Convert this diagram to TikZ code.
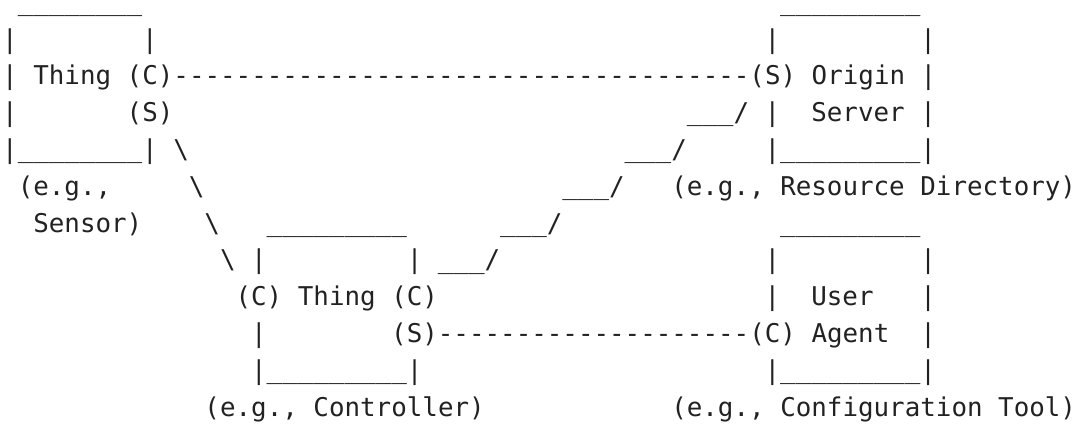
\documentclass[tikz,border=0pt]{standalone}
\usepackage{fontspec}
\setmonofont{DejaVu Sans Mono}
\definecolor{ink}{HTML}{222222}
\newcommand\asc[4]{\node[txt] (#1) at ({2.2+15.56*(#2)},{11.2+36.8*(#3)}) {#4};}
\newcommand\ascu[4]{\node[txt,yshift=0.4pt] (#1) at ({2.2+15.56*(#2)},{11.2+36.8*(#3)}) {#4};}
\newcommand\bs{\textbackslash}
\begin{document}
\begin{tikzpicture}[x=0.5pt,y=-0.5pt,
  txt/.style={inner sep=0pt,outer sep=0pt,anchor=base west,text=ink,
    font=\fontsize{12.93pt}{18pt}\selectfont\ttfamily\frenchspacing}]
\useasboundingbox (0,0) rectangle (1079,423);
% row 0
\ascu{a0}{1}{0}{\_\_\_\_\_\_\_\_}
\ascu{b0}{50}{0}{\_\_\_\_\_\_\_\_\_}
% row 1
\asc{a1}{0}{1}{|}
\asc{b1}{9}{1}{|}
\asc{c1}{49}{1}{|}
\asc{d1}{59}{1}{|}
% row 2
\asc{a2}{0}{2}{| Thing (C)-------------------------------------(S) Origin |}
% row 3
\asc{a3}{0}{3}{|}
\asc{b3}{8}{3}{(S)}
\ascu{c3}{44}{3}{\_\_\_}
\asc{d3}{47}{3}{/}
\asc{e3}{49}{3}{|}
\asc{f3}{52}{3}{Server}
\asc{g3}{59}{3}{|}
% row 4
\asc{a4}{0}{4}{|}
\ascu{b4}{1}{4}{\_\_\_\_\_\_\_\_}
\asc{c4}{9}{4}{|}
\asc{d4}{11}{4}{\bs}
\ascu{e4}{40}{4}{\_\_\_}
\asc{f4}{43}{4}{/}
\asc{g4}{49}{4}{|}
\ascu{h4}{50}{4}{\_\_\_\_\_\_\_\_\_}
\asc{i4}{59}{4}{|}
% row 5
\asc{a5}{1}{5}{(e.g.,}
\asc{b5}{12}{5}{\bs}
\ascu{c5}{36}{5}{\_\_\_}
\asc{d5}{39}{5}{/}
\asc{e5}{43}{5}{(e.g., Resource Directory)}
% row 6
\asc{a6}{2}{6}{Sensor)}
\asc{b6}{13}{6}{\bs}
\ascu{c6}{17}{6}{\_\_\_\_\_\_\_\_\_}
\ascu{d6}{32}{6}{\_\_\_}
\asc{e6}{35}{6}{/}
\ascu{f6}{50}{6}{\_\_\_\_\_\_\_\_\_}
% row 7
\asc{a7}{14}{7}{\bs}
\asc{b7}{16}{7}{|}
\asc{c7}{26}{7}{|}
\ascu{d7}{28}{7}{\_\_\_}
\asc{e7}{31}{7}{/}
\asc{f7}{49}{7}{|}
\asc{g7}{59}{7}{|}
% row 8
\asc{a8}{15}{8}{(C) Thing (C)}
\asc{b8}{49}{8}{|}
\asc{c8}{52}{8}{User}
\asc{d8}{59}{8}{|}
% row 9
\asc{a9}{16}{9}{|}
\asc{b9}{25}{9}{(S)--------------------(C) Agent}
\asc{c9}{59}{9}{|}
% row 10
\asc{a10}{16}{10}{|}
\ascu{b10}{17}{10}{\_\_\_\_\_\_\_\_\_}
\asc{c10}{26}{10}{|}
\asc{d10}{49}{10}{|}
\ascu{e10}{50}{10}{\_\_\_\_\_\_\_\_\_}
\asc{f10}{59}{10}{|}
% row 11
\asc{a11}{13}{11}{(e.g., Controller)}
\asc{b11}{43}{11}{(e.g., Configuration Tool)}
\end{tikzpicture}
\end{document}
